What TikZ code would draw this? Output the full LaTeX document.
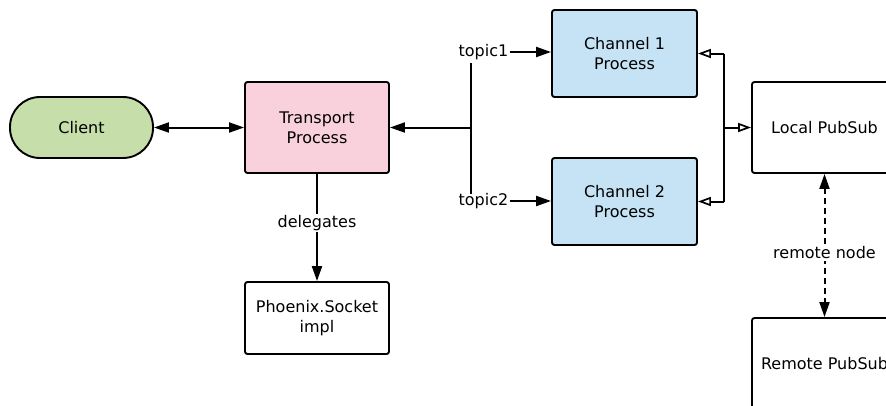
\documentclass[tikz,border=0pt]{standalone}
\usepackage{fontspec}
\setmainfont{DejaVu Sans}
\usetikzlibrary{arrows.meta}
\definecolor{cgreen}{HTML}{C6DFAA}
\definecolor{cpink}{HTML}{F8D1DD}
\definecolor{cblue}{HTML}{C5E3F4}
\begin{document}
\begin{tikzpicture}[x=1pt,y=-1pt,
  font=\fontsize{16}{20}\selectfont,
  box/.style={draw=black, line width=1.9pt, rounded corners=2.5pt, align=center, inner sep=0pt},
  conn/.style={line width=2pt},
  tipf/.style={-{Triangle[length=15pt,width=10pt]}},
  tipo/.style={-{Triangle[open,length=13pt,width=9pt,line width=1.7pt]}},
  lbl/.style={fill=white, inner sep=1.5pt}]
\useasboundingbox (0,0) rectangle (886,405);
\clip (0,0) rectangle (886,405);
\fill[white] (0,0) rectangle (886,405);
% nodes
\node[box, fill=cgreen, rounded corners=30pt, minimum width=143pt, minimum height=61pt] (client) at (81.5,127.5) {Client};
\node[box, fill=cpink, minimum width=144pt, minimum height=91pt] (transport) at (317,127.5) {Transport\\Process};
\node[box, fill=cblue, minimum width=145pt, minimum height=87pt] (ch1) at (624.5,53.5) {Channel 1\\Process};
\node[box, fill=cblue, minimum width=145pt, minimum height=87pt] (ch2) at (624.5,201.5) {Channel 2\\Process};
\node[box, fill=white, minimum width=145pt, minimum height=91pt] (local) at (824.5,127.5) {Local PubSub};
\node[box, fill=white, minimum width=145pt, minimum height=91pt] (remote) at (824.5,363.5) {Remote PubSub};
\node[box, fill=white, minimum width=144pt, minimum height=72pt] (phoenix) at (317,318) {Phoenix.Socket\\impl};
% labels
\node[inner sep=1pt] (topic1) at (483.5,52) {topic1};
\node[inner sep=1pt] (topic2) at (483.5,201) {topic2};
\coordinate (fork) at (470.5,127.5);
\coordinate (rfork) at (724,127.5);
% connectors
\draw[conn, {Triangle[length=15pt,width=10pt]}-{Triangle[length=15pt,width=10pt]}] (client.east) -- (transport.west);
\draw[conn] (topic1.south -| fork) ++(0,2) -- ([yshift=-2pt]topic2.north -| fork);
\draw[conn, tipf] (fork) -- (transport.east);
\draw[conn, tipf] (topic1.east) -- (topic1.east -| ch1.west);
\draw[conn, tipf] (topic2.east) -- (topic2.east -| ch2.west);
\draw[conn] (rfork |- ch1.east) -- (rfork |- ch2.east);
\draw[conn, tipo] (rfork |- ch1.east) -- (ch1.east);
\draw[conn, tipo] (rfork |- ch2.east) -- (ch2.east);
\draw[conn, tipo] (rfork) -- (local.west);
\draw[conn, tipf] (transport.south) -- (phoenix.north);
\node[lbl] (deleg) at (317,223) {delegates};
\draw[conn, dash pattern=on 6pt off 4pt, {Triangle[length=15pt,width=10pt]}-{Triangle[length=15pt,width=10pt]}] (local.south) -- (remote.north);
\node[lbl] (rnode) at (824.5,253) {remote node};
\end{tikzpicture}
\end{document}
